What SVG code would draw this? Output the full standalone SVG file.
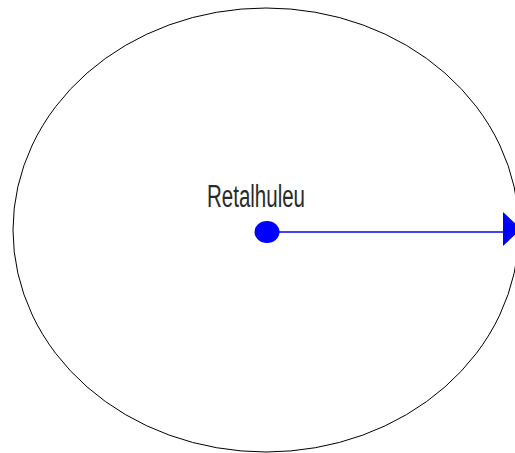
<svg xmlns="http://www.w3.org/2000/svg" width="515" height="453" viewBox="0 0 515 453">
<style>
.label{font-family:"Liberation Sans",Arial,sans-serif;font-size:31px;fill:#2a2a2a}
.conn{stroke:#0000ff;stroke-width:1.5;fill:none}
</style>
<rect width="515" height="453" fill="#ffffff"/>
<g id="boundary">
<ellipse cx="266" cy="230" rx="253" ry="222" fill="none" stroke="#000000" stroke-width="1"/>
</g>
<g id="node-retalhuleu">
<text class="label" x="207" y="207" textLength="98" lengthAdjust="spacingAndGlyphs">Retalhuleu</text>
<ellipse cx="267" cy="232" rx="12.5" ry="11" fill="#0000ff"/>
</g>
<g id="connectors">
<line class="conn" x1="267" y1="232" x2="504" y2="232"/>
<polygon points="503,212 521,229 503,246" fill="#0000ff"/>
</g>
</svg>
